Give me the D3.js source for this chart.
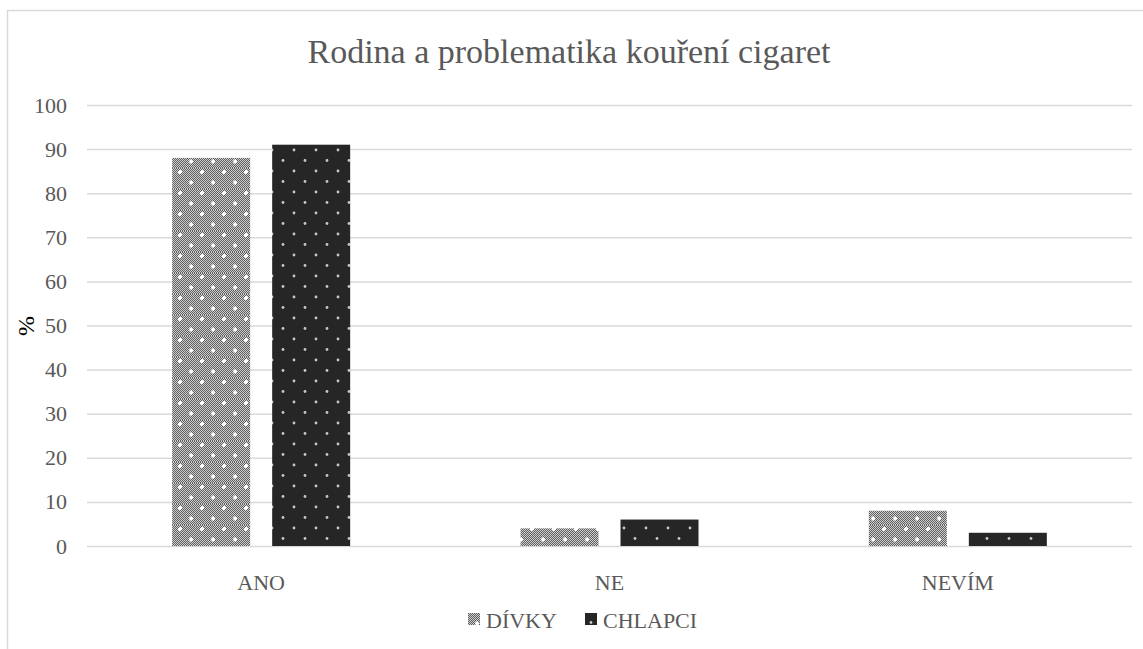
<!DOCTYPE html>
<html><head><meta charset="utf-8">
<script src="https://cdn.jsdelivr.net/npm/d3@7"></script>
<style>body{margin:0;background:#fff}svg{display:block}</style>
</head><body>
<svg id="c" width="1143" height="649"></svg>
<script>
const categories = ["ANO", "NE", "NEVÍM"];
const seriesNames = ["DÍVKY", "CHLAPCI"];
const divky = [88, 4, 8];
const chlapci = [91, 6, 3];
const yTicks = [0, 10, 20, 30, 40, 50, 60, 70, 80, 90, 100];
const titleText = "Rodina a problematika kouření cigaret";
const yLabel = "%";

const FONT = "'Liberation Serif', 'Times New Roman', Tinos, 'DejaVu Serif', serif";
const svg = d3.select("#c");
const defs = svg.append("defs");

// DÍVKY pattern: fine checker with white plus-dots
const p1 = defs.append("pattern").attr("id","pDivky").attr("patternUnits","userSpaceOnUse")
  .attr("width",22).attr("height",21);
p1.append("rect").attr("width",22).attr("height",21).attr("fill","#cfcfcf");
for (let yy=0; yy<21; yy++) for (let xx=0; xx<22; xx++) {
  if ((xx+yy)%2===0) p1.append("rect").attr("x",xx).attr("y",yy).attr("width",1).attr("height",1).attr("fill","#5e5e5e");
}
function plus(g, cx, cy){
  g.append("rect").attr("x",cx-1).attr("y",cy-2).attr("width",2).attr("height",4).attr("fill","#fff");
  g.append("rect").attr("x",cx-2).attr("y",cy-1).attr("width",4).attr("height",2).attr("fill","#fff");
}
plus(p1, 4, 4); plus(p1, 15, 14.5);

// CHLAPCI pattern: dark with light dots
const p2 = defs.append("pattern").attr("id","pChlapci").attr("patternUnits","userSpaceOnUse")
  .attr("width",22).attr("height",21);
p2.append("rect").attr("width",22).attr("height",21).attr("fill","#262626");
p2.append("circle").attr("cx",8).attr("cy",3).attr("r",1.4).attr("fill","#c8c8c8");
p2.append("circle").attr("cx",19).attr("cy",13.5).attr("r",1.4).attr("fill","#c8c8c8");

const fills = ["url(#pDivky)", "url(#pChlapci)"];

// border
svg.append("rect").attr("x",7.5).attr("y",10.5).attr("width",1300).attr("height",800)
  .attr("fill","none").attr("stroke","#d9d9d9").attr("stroke-width",1.5);

const x0 = d3.scaleBand().domain(categories).range([87,1132]);
const groupW = 178;
const x1 = d3.scaleBand().domain(seriesNames).range([0,groupW]).paddingInner(0.22);
const y = d3.scaleLinear().domain([0,100]).range([546,105]);

// gridlines + y ticks
const yAxis = d3.axisLeft(y).tickValues(yTicks).tickSize(-(1132-87)).tickPadding(20);
const gy = svg.append("g").attr("transform","translate(87,0)").call(yAxis)
  .attr("font-family", FONT).attr("font-size", 22);
gy.select(".domain").remove();
gy.selectAll(".tick line").attr("stroke","#d9d9d9").attr("stroke-width",1.5);
gy.selectAll(".tick text").attr("fill","#595959");

// bars
const data = [divky, chlapci];
categories.forEach((c,i)=>{
  const off = x0(c) + (x0.bandwidth()-groupW)/2;
  seriesNames.forEach((s,j)=>{
    const v = data[j][i];
    svg.append("rect").attr("x", off + x1(s)).attr("y", y(v))
      .attr("width", x1.bandwidth()).attr("height", y(0)-y(v))
      .attr("fill", fills[j]);
  });
});

// x axis
const xAxis = d3.axisBottom(x0).tickSize(0).tickPadding(28);
const gx = svg.append("g").attr("transform","translate(0,546)").call(xAxis)
  .attr("font-family", FONT).attr("font-size", 22);
gx.select(".domain").remove();
gx.selectAll(".tick text").attr("fill","#595959");

// title
svg.append("text").attr("x",569).attr("y",63).attr("text-anchor","middle")
  .attr("font-family", FONT).attr("font-size", 34)
  .attr("fill","#595959").text(titleText);

// y label
svg.append("text").attr("transform","translate(34,326) rotate(-90)").attr("text-anchor","middle")
  .attr("font-family", FONT).attr("font-size", 24)
  .attr("fill","#000").text(yLabel);

// legend
const legX = [468, 585];
seriesNames.forEach((s,j)=>{
  svg.append("rect").attr("x",legX[j]).attr("y",613).attr("width",12).attr("height",12).attr("fill",fills[j]);
  svg.append("text").attr("x",legX[j]+18).attr("y",628)
    .attr("font-family", FONT).attr("font-size", 22)
    .attr("fill","#595959").text(s);
});
</script>
</body></html>
